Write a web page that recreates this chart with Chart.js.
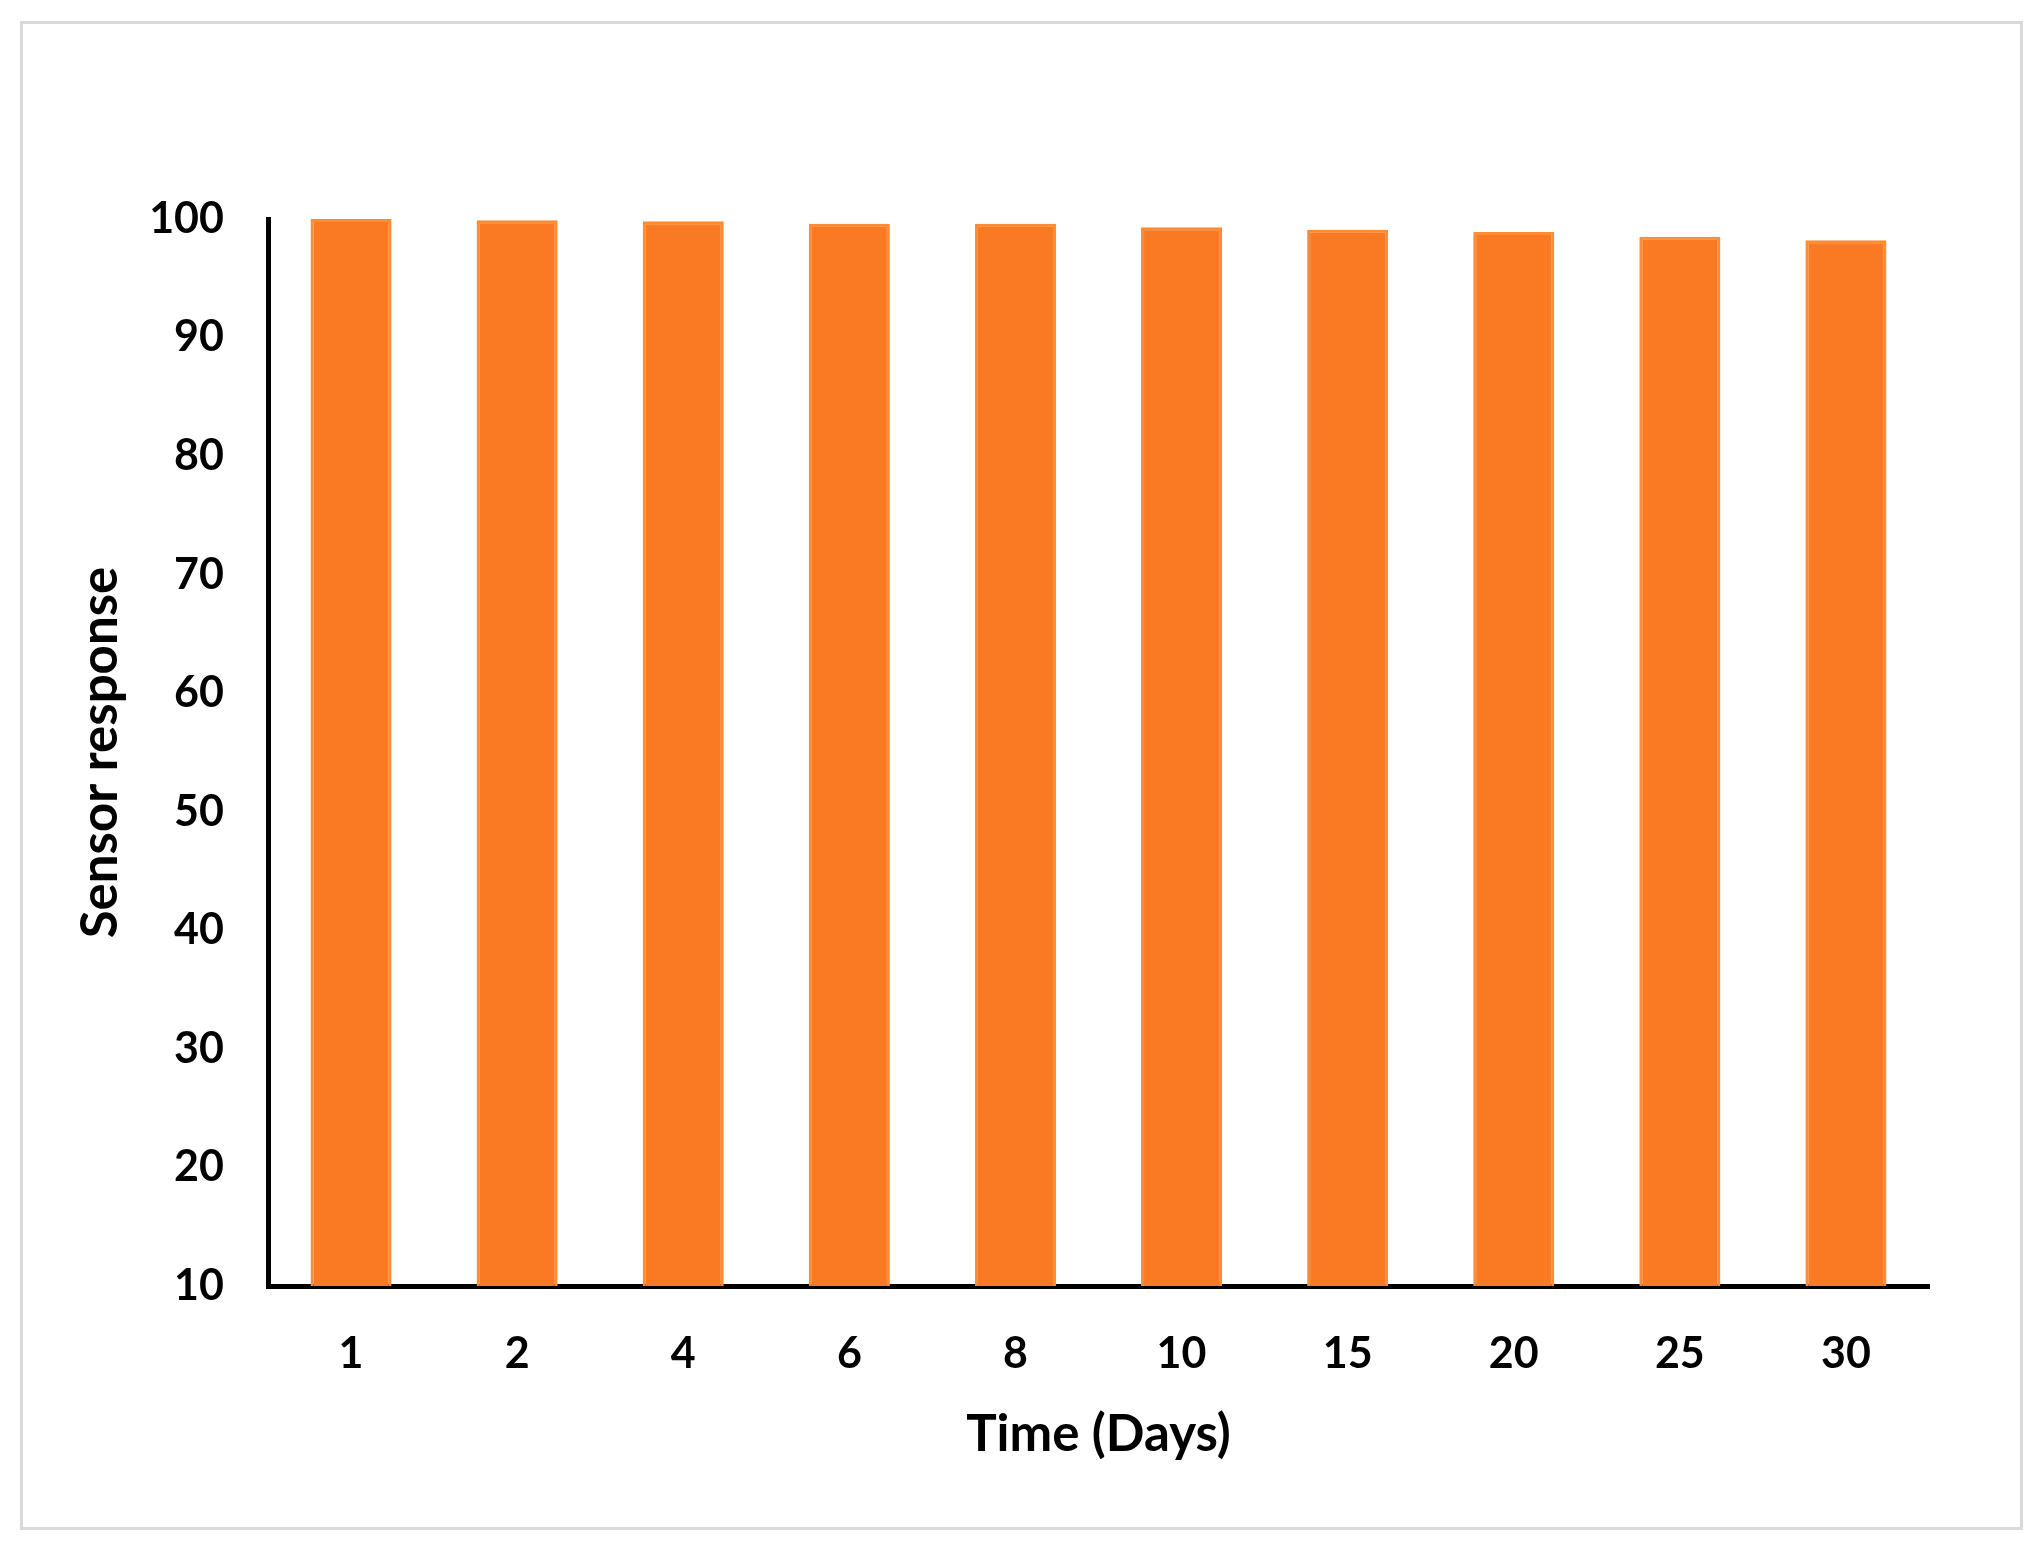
<!DOCTYPE html>
<html>
<head>
<meta charset="utf-8">
<script src="https://cdn.jsdelivr.net/npm/chart.js@4/dist/chart.umd.min.js"></script>
<style>
  html, body { margin: 0; padding: 0; background: #ffffff; }
  #frame { position: absolute; left: 20px; top: 21px; width: 1997px; height: 1503px; border: 3px solid #d9d9d9; }
  #wrap { position: absolute; left: 0; top: 0; width: 2041px; height: 1555px; }
</style>
</head>
<body>
<div id="frame"></div>
<div id="wrap"><canvas id="c" width="2041" height="1555"></canvas></div>
<script>
const categories = ["1", "2", "4", "6", "8", "10", "15", "20", "25", "30"];
const sensorResponse = [100, 99.9, 99.8, 99.6, 99.6, 99.3, 99.1, 98.9, 98.5, 98.2];
const yTicks = [10, 20, 30, 40, 50, 60, 70, 80, 90, 100];
const xTitle = "Time (Days)";
const yTitle = "Sensor response";

const tickFont = { family: "Lato, 'Open Sans', sans-serif", size: 43, weight: "bold" };
const titleFont = { family: "Lato, 'Open Sans', sans-serif", size: 51, weight: "bold" };

new Chart(document.getElementById("c"), {
  type: "bar",
  data: {
    labels: categories,
    datasets: [{
      data: sensorResponse,
      backgroundColor: "#F97A22",
      borderColor: "#FF8C33",
      borderWidth: 3,
      borderSkipped: "bottom",
      categoryPercentage: 1.0,
      barPercentage: 0.488
    }]
  },
  options: {
    responsive: false,
    animation: false,
    devicePixelRatio: 1,
    layout: { padding: { left: 0, top: 219, right: 112, bottom: 0 } },
    plugins: { legend: { display: false }, tooltip: { enabled: false } },
    scales: {
      x: {
        grid: { display: false, drawTicks: false },
        border: { display: true, color: "#000000", width: 5 },
        ticks: { color: "#000000", font: tickFont, padding: 42, maxRotation: 0 },
        title: { display: true, text: xTitle, color: "#000000", font: titleFont, padding: { top: 0, bottom: 90 } },
        afterFit: (s) => { s.height = 269; }
      },
      y: {
        min: 10,
        max: 100,
        afterBuildTicks: (s) => { s.ticks = yTicks.map(v => ({ value: v })); },
        grid: { display: false, drawTicks: false },
        border: { display: true, color: "#000000", width: 5 },
        ticks: { color: "#000000", font: tickFont, padding: 44 },
        title: { display: true, text: yTitle, color: "#000000", font: titleFont, padding: { top: 70, bottom: 0 } },
        afterFit: (s) => { s.width = 268; }
      }
    }
  }
});
</script>
</body>
</html>
